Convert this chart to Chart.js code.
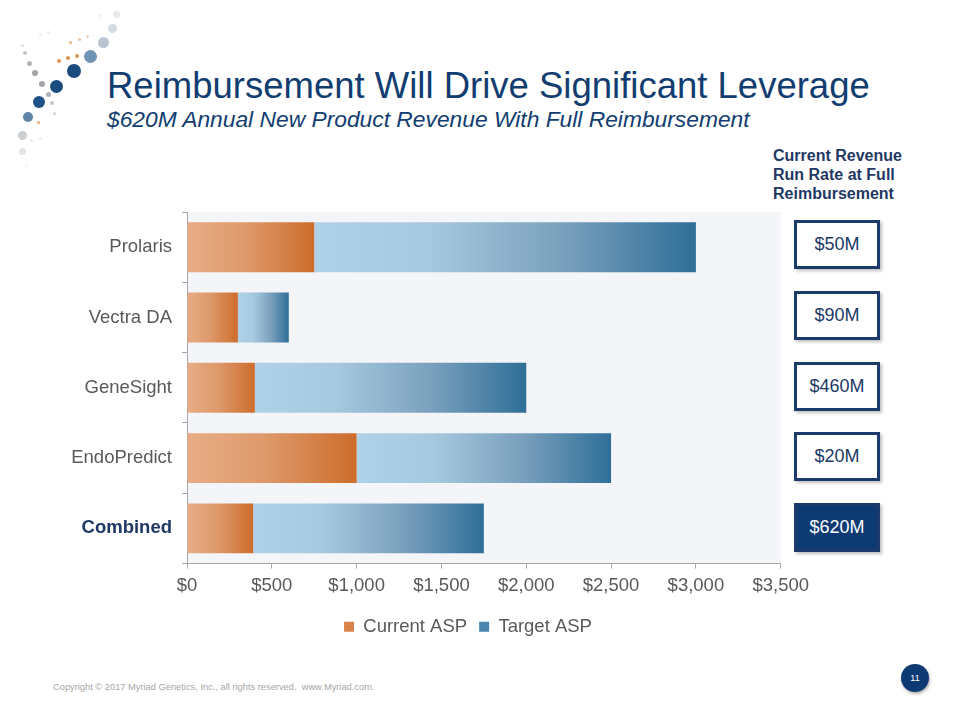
<!DOCTYPE html>
<html>
<head>
<meta charset="utf-8">
<script src="https://cdn.jsdelivr.net/npm/chart.js@4"></script>
<style>
  html, body { margin: 0; padding: 0; background: #fff; }
  body { width: 960px; height: 720px; position: relative; overflow: hidden; font-family: "Liberation Sans", Arial, sans-serif; }
  .dot { position: absolute; border-radius: 50%; }
  #title { position: absolute; left: 107px; top: 68px; font-size: 36.5px; line-height: 36.5px; color: #123d70; white-space: nowrap; }
  #subtitle { position: absolute; left: 107px; top: 107.5px; font-size: 22.8px; line-height: 23px; font-style: italic; color: #123d70; white-space: nowrap; }
  #rrHead { position: absolute; left: 773px; top: 145.7px; font-size: 16px; line-height: 19px; font-weight: bold; color: #1f3864; }
  .box { position: absolute; left: 794px; width: 80px; height: 43px; border: 3px solid #1c3b6b; background: #fff;
         color: #1c3966; font-size: 18px; line-height: 43px; text-align: center; box-shadow: 2px 2px 3px rgba(0,0,0,0.25); }
  .box.total { background: #0e3a73; color: #fff; }
  #chartBox { position: absolute; left: 0; top: 191px; width: 815px; height: 459px; }
  #footer { position: absolute; left: 53px; top: 682px; font-size: 9.3px; color: #a6a6a6; white-space: nowrap; }
  #pageNo { position: absolute; left: 901px; top: 664px; width: 28px; height: 28px; border-radius: 50%; background: #0e3a73;
            color: #fff; font-size: 9px; line-height: 28px; text-align: center; box-shadow: 1px 2px 3px rgba(0,0,0,0.3); }
</style>
</head>
<body>
<div id="logo"></div>
<div id="title">Reimbursement Will Drive Significant Leverage</div>
<div id="subtitle">$620M Annual New Product Revenue With Full Reimbursement</div>
<div id="rrHead">Current Revenue<br>Run Rate at Full<br>Reimbursement</div>
<div id="boxes"></div>
<div id="chartBox"><canvas id="c"></canvas></div>
<div id="footer">Copyright © 2017 Myriad Genetics, Inc., all rights reserved.&nbsp; www.Myriad.com.</div>
<div id="pageNo">11</div>
<script>
// 数据
const categories = ['Prolaris', 'Vectra DA', 'GeneSight', 'EndoPredict', 'Combined'];
const currentAsp = [750, 300, 400, 1000, 390];
const targetAsp = [3000, 600, 2000, 2500, 1750];
const runRates = ['$50M', '$90M', '$460M', '$20M', '$620M'];
const seriesNames = ['Current ASP', 'Target ASP'];

// 左上角装饰点 [x, y, r, color]
const logoDots = [
  [74, 71, 7, '#1a4c80'], [56, 86, 6.5, '#1a4c80'], [39, 102, 6, '#1f5288'], [28, 117, 5, '#5f84a6'],
  [90, 56, 6.5, '#6f93b5'], [103, 42, 5.5, '#b9c5d1'], [112, 28, 4.5, '#d5dbe1'], [116, 14, 3.5, '#e6e9ec'],
  [22, 135, 4.5, '#c9ced3'], [22, 151, 3.5, '#e2e5e8'], [25, 53, 2, '#c2c5c9'], [29, 63, 2.5, '#b0b4b8'],
  [35, 73, 3, '#a2a6ab'], [42, 84, 3, '#a2a6ab'], [48, 94, 2.5, '#b0b4b8'], [52, 103, 2, '#c2c5c9'],
  [54, 113, 1.5, '#cfd2d5'], [59, 61, 2, '#d9964f'], [68, 58, 2, '#d9964f'], [77, 56, 2, '#d9964f'],
  [70, 42, 1.5, '#e4b58a'], [79, 39, 1.5, '#e8c6a6'], [87, 36, 1.5, '#ecd3bc'], [38, 122, 1.5, '#e0a878'],
  [22, 45, 1.5, '#e2e4e6'], [40, 34, 1.5, '#eceef0'], [48, 32, 1.5, '#eceef0'], [31, 140, 1.5, '#e6e8ea'],
  [40, 138, 1.5, '#eceef0'], [26, 165, 1.5, '#f0f1f2'], [100, 15, 1.5, '#eceef0']
];
const logo = document.getElementById('logo');
logoDots.forEach(([x, y, r, col]) => {
  const d = document.createElement('div');
  d.className = 'dot';
  d.style.cssText = `left:${x - r}px;top:${y - r}px;width:${2 * r}px;height:${2 * r}px;background:${col}`;
  logo.appendChild(d);
});

// 右侧方框
const boxTops = [220, 291, 362, 432, 503];
const boxes = document.getElementById('boxes');
runRates.forEach((t, i) => {
  const b = document.createElement('div');
  b.className = 'box' + (i === runRates.length - 1 ? ' total' : '');
  b.style.top = boxTops[i] + 'px';
  b.textContent = t;
  boxes.appendChild(b);
});

const ORANGE = [[0, '#e8ad86'], [0.45, '#de9a6c'], [1, '#cd6d2c']];
const BLUE = [[0, '#b0d2e8'], [0.3, '#a7c9df'], [0.65, '#7aa0bd'], [1, '#2f6f98']];

function barGradient(stops, solid) {
  return (c) => {
    const chart = c.chart;
    if (!chart.chartArea || c.raw === undefined) return solid;
    const xs = chart.scales.x;
    const a = Array.isArray(c.raw) ? c.raw[0] : 0;
    const b = Array.isArray(c.raw) ? c.raw[1] : c.raw;
    const x0 = xs.getPixelForValue(a), x1 = xs.getPixelForValue(b);
    if (!isFinite(x0) || !isFinite(x1)) return solid;
    const g = chart.ctx.createLinearGradient(x0, 0, x1, 0);
    stops.forEach(([o, col]) => g.addColorStop(o, col));
    return g;
  };
}

const plotBg = {
  id: 'plotBg',
  beforeDraw(chart) {
    const { ctx, chartArea: a } = chart;
    ctx.save();
    ctx.fillStyle = '#f3f5f8';
    ctx.fillRect(a.left, a.top, a.right - a.left, a.bottom - a.top);
    ctx.restore();
  }
};

// 图例整体右移，使其居中于约 x=468
const legendShift = {
  id: 'legendShift',
  afterLayout(chart) {
    const lg = chart.legend;
    if (!lg) return;
    const dx = 468 - (lg.left + lg.right) / 2;
    lg.left += dx;
    lg.right += dx;
  }
};

Chart.defaults.font.family = '"Liberation Sans", Arial, sans-serif';

new Chart(document.getElementById('c'), {
  type: 'bar',
  data: {
    labels: categories,
    datasets: [
      {
        label: seriesNames[0],
        data: currentAsp,
        backgroundColor: barGradient(ORANGE, '#d9834a'),
        borderWidth: 0,
        barPercentage: 0.71,
        categoryPercentage: 1
      },
      {
        label: seriesNames[1],
        data: targetAsp.map((t, i) => [currentAsp[i], t]),
        backgroundColor: barGradient(BLUE, '#4a86ad'),
        borderWidth: 0,
        barPercentage: 0.71,
        categoryPercentage: 1
      }
    ]
  },
  options: {
    indexAxis: 'y',
    responsive: true,
    maintainAspectRatio: false,
    animation: false,
    layout: { padding: { top: 2, right: 10, left: 0, bottom: 4 } },
    plugins: {
      tooltip: { enabled: false },
      legend: {
        position: 'bottom',
        labels: {
          color: '#595959',
          font: { size: 18.5 },
          boxWidth: 10,
          boxHeight: 10,
          padding: 12,
          generateLabels: () => [
            { text: seriesNames[0], fillStyle: '#d9834a', strokeStyle: '#d9834a', fontColor: '#595959', lineWidth: 0, datasetIndex: 0 },
            { text: seriesNames[1], fillStyle: '#4a86ad', strokeStyle: '#4a86ad', fontColor: '#595959', lineWidth: 0, datasetIndex: 1 }
          ]
        }
      }
    },
    scales: {
      x: {
        min: 0,
        max: 3500,
        ticks: {
          stepSize: 500,
          color: '#595959',
          font: { size: 18.5 },
          padding: 6,
          callback: v => '$' + v.toLocaleString('en-US')
        },
        grid: { drawOnChartArea: false, color: '#a6a6a6', tickLength: 5 },
        border: { color: '#a6a6a6' },
        afterFit: s => { s.height = 42; }
      },
      y: {
        stacked: true,
        ticks: {
          padding: 10,
          color: c => c.index === 4 ? '#1f3864' : '#595959',
          font: c => ({ size: 18.5, weight: c.index === 4 ? 'bold' : 'normal' })
        },
        grid: { drawOnChartArea: false, color: '#a6a6a6', tickLength: 5, offset: true },
        border: { color: '#a6a6a6' },
        afterFit: s => { s.width = 187; }
      }
    }
  },
  plugins: [plotBg, legendShift]
});
</script>
</body>
</html>
